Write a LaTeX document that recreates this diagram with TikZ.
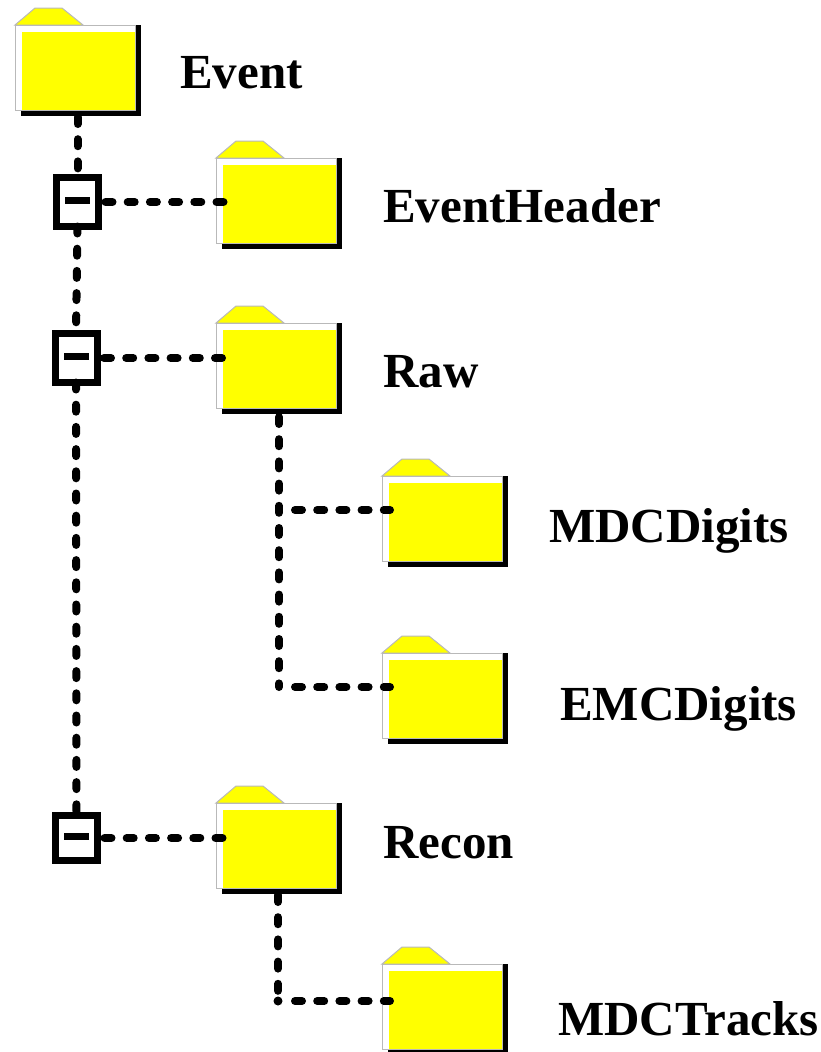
\documentclass[tikz,border=0pt]{standalone}
\usepackage{fontspec}
\setmainfont{Liberation Serif}
\definecolor{folderyellow}{RGB}{255,255,0}
\definecolor{foldergray}{RGB}{185,185,185}
\tikzset{
  folderbody/.style={rectangle, draw=foldergray, line width=1pt, fill=white, anchor=north west, inner sep=0pt, outer sep=0pt,
    minimum width=120pt, minimum height=85pt,
    path picture={\fill[folderyellow] ([xshift=7pt,yshift=-7pt]path picture bounding box.north west) rectangle (path picture bounding box.south east);}},
  treeline/.style={line width=8pt, line cap=round, dash pattern=on 7pt off 15.2pt},
  treedot/.style={circle, fill=black, inner sep=0pt, minimum size=9pt},
  minusbox/.style={rectangle, draw=black, line width=7pt, fill=white, inner sep=0pt, outer sep=0pt, minimum width=42pt, minimum height=49pt},
  minusbar/.style={rectangle, fill=black, inner sep=0pt, minimum width=25pt, minimum height=7pt},
  label/.style={anchor=base west, inner sep=0pt, font=\bfseries\fontsize{49}{49}\selectfont}
}
\newcommand{\folder}[3]{%
  \begin{scope}[shift={(#2,#3)}]
    \fill[black] (6,0) rectangle (126,91);
    \filldraw[fill=folderyellow, draw=foldergray, line width=1pt] (0,0) -- (20,-17) -- (47,-17) -- (68,0) -- cycle;
    \node[folderbody] (#1) at (0,0) {};
  \end{scope}}
\begin{document}
\begin{tikzpicture}[x=1pt,y=-1pt]
\useasboundingbox (0,0) rectangle (820,1052);

\folder{event}{15}{25}
\folder{header}{216}{158}
\folder{raw}{216}{323}
\folder{mdcd}{382}{476}
\folder{emcd}{382}{653}
\folder{recon}{216}{803}
\folder{mdct}{382}{964}

\node[minusbox] (b1) at (77.5,202) {};
\node[minusbox] (b2) at (76,358) {};
\node[minusbox, minimum height=45pt] (b3) at (76.5,838) {};
\node[minusbar] (m1) at (77.5,200.5) {};
\node[minusbar] (m2) at (76.5,356) {};
\node[minusbar] (m3) at (76.5,836.5) {};

\coordinate (j1) at (279,510);
\coordinate (j2) at (279,687);
\coordinate (j3) at (278,1001);
\node[treedot] (d3) at (j3) {};

\draw[treeline] ([yshift=-7pt]event.south -| b1) -- (b1.north);
\draw[treeline] (b1.south) -- (b2.north);
\draw[treeline] (b2.south) -- (b3.north);

\draw[treeline] ([xshift=7pt]b1.east) -- ([xshift=10pt]header.west |- b1.east);
\draw[treeline] ([xshift=7pt]b2.east) -- ([xshift=10pt]raw.west |- b2.east);
\draw[treeline] ([xshift=7pt]b3.east) -- ([xshift=10pt]recon.west |- b3.east);

\draw[treeline] ([yshift=-9pt]raw.south -| j1) -- (j2);
\draw[treeline] ([xshift=16pt]j1) -- ([xshift=8pt]mdcd.west |- j1);
\draw[treeline] ([xshift=16pt]j2) -- ([xshift=8pt]emcd.west |- j2);
\draw[treeline] ([yshift=-7pt]recon.south -| j3) -- ([yshift=5pt]j3);
\draw[treeline] ([xshift=17pt]j3) -- ([xshift=8pt]mdct.west |- j3);

\node[label] (tevent) at (180,88) {Event};
\node[label] (theader) at (383,222) {EventHeader};
\node[label] (traw) at (383,387) {Raw};
\node[label] (tmdcd) at (549,542) {MDCDigits};
\node[label] (temcd) at (560,720) {EMCDigits};
\node[label] (trecon) at (383,858) {Recon};
\node[label] (tmdct) at (558,1035) {MDCTracks};
\end{tikzpicture}
\end{document}
